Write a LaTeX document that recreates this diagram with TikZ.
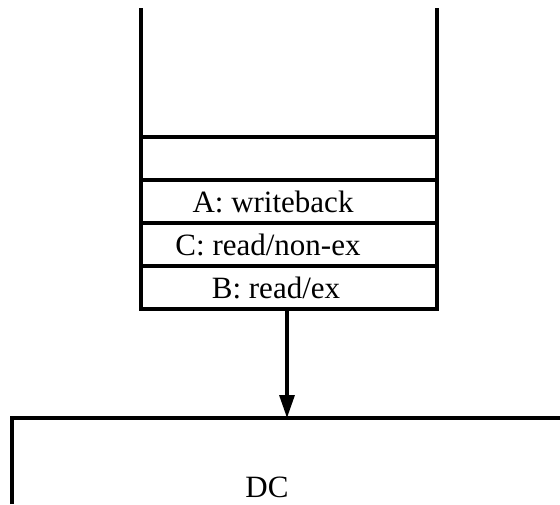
\documentclass[tikz,border=0pt]{standalone}
\usepackage{fontspec}
\setmainfont{Liberation Serif}
\usetikzlibrary{arrows.meta,positioning}
\tikzset{
  slotbox/.style={draw, line width=1.6pt, outer sep=0pt, inner sep=0pt,
    minimum width=148pt, minimum height=21.5pt},
  slottext/.style={font=\fontsize{15.5}{18}\selectfont, inner sep=0pt},
  wall/.style={line width=1.6pt},
  feedarr/.style={-{Triangle[length=11.5pt, width=7.5pt]}, line width=1.6pt},
}
\begin{document}
\begin{tikzpicture}[x=0.5pt, y=-0.5pt]
  \useasboundingbox (0,0) rectangle (560,504);

  % queue slots, bottom one feeds the DC
  \node[slotbox, anchor=north] (s0) at (289,137) {};
  \node[slotbox, below=0pt of s0] (s1) {};
  \node[slotbox, below=0pt of s1] (s2) {};
  \node[slotbox, below=0pt of s2] (s3) {};
  \node[slottext, xshift=-8pt] (t1) at (s1) {A: writeback};
  \node[slottext, xshift=-10.5pt] (t2) at (s2) {C: read/non-ex};
  \node[slottext, xshift=-6.5pt] (t3) at (s3) {B: read/ex};

  % open top of the queue
  \coordinate (qtl) at (141,8);
  \coordinate (qtr) at (437,8);
  \draw[wall] (s0.north west) -- (qtl);
  \draw[wall] (s0.north east) -- (qtr);

  % DC block (runs off the page to the right and below)
  \coordinate (dcbl) at (12,504);
  \coordinate (dctr) at (560,418);
  \coordinate (dcin) at (287,418);
  \draw[wall] (dcbl) |- (dctr);
  \node[slottext] (dc) at (267,487) {DC};

  \draw[feedarr] (s3.south -| dcin) -- (dcin);
\end{tikzpicture}
\end{document}
